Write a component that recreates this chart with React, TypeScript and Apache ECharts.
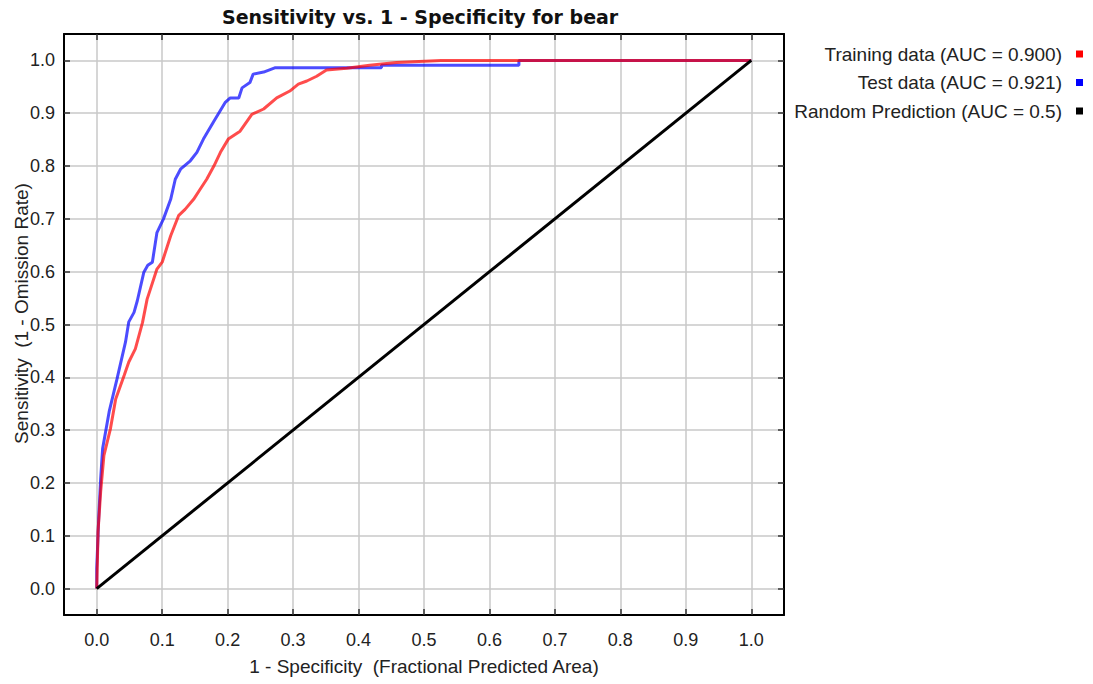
import React, { useEffect, useRef } from "react";
import * as echarts from "echarts";

const TITLE = "Sensitivity vs. 1 - Specificity for bear";
const X_NAME = "1 - Specificity  (Fractional Predicted Area)";
const Y_NAME = "Sensitivity  (1 - Omission Rate)";
const TICKS = [0, 0.1, 0.2, 0.3, 0.4, 0.5, 0.6, 0.7, 0.8, 0.9, 1.0];

const SERIES_NAMES = [
  "Training data (AUC = 0.900)",
  "Test data (AUC = 0.921)",
  "Random Prediction (AUC = 0.5)",
];
const SERIES_COLORS = ["#ff0000", "#0000ff", "#000000"];

const TRAIN_X = [0, 0.001, 0.002, 0.006, 0.011, 0.021, 0.029, 0.042, 0.049, 0.059, 0.07, 0.077, 0.082, 0.092, 0.1, 0.113, 0.125, 0.135, 0.148, 0.158, 0.168, 0.179, 0.189, 0.201, 0.219, 0.237, 0.255, 0.275, 0.295, 0.308, 0.321, 0.336, 0.351, 0.382, 0.417, 0.458, 0.526, 1.0];
const TRAIN_Y = [0, 0.05, 0.108, 0.183, 0.252, 0.303, 0.359, 0.404, 0.429, 0.454, 0.504, 0.548, 0.567, 0.605, 0.618, 0.668, 0.706, 0.718, 0.737, 0.756, 0.775, 0.8, 0.826, 0.851, 0.866, 0.898, 0.908, 0.929, 0.942, 0.955, 0.961, 0.97, 0.982, 0.985, 0.991, 0.996, 1.0, 1.0];

const TEST_X = [0, 0, 0.003, 0.006, 0.009, 0.019, 0.031, 0.044, 0.049, 0.057, 0.062, 0.072, 0.078, 0.085, 0.092, 0.102, 0.113, 0.12, 0.128, 0.143, 0.153, 0.163, 0.179, 0.196, 0.204, 0.217, 0.222, 0.234, 0.239, 0.255, 0.272, 0.435, 0.435, 0.645, 0.645, 1.0];
const TEST_Y = [0, 0.038, 0.133, 0.208, 0.265, 0.335, 0.397, 0.467, 0.505, 0.523, 0.545, 0.599, 0.612, 0.618, 0.674, 0.7, 0.737, 0.775, 0.794, 0.81, 0.826, 0.851, 0.885, 0.92, 0.929, 0.929, 0.948, 0.958, 0.974, 0.978, 0.986, 0.986, 0.991, 0.991, 1.0, 1.0];

const RANDOM_X = [0, 1];
const RANDOM_Y = [0, 1];

const FONT = "'Liberation Sans', Arial, sans-serif";

const zip = (xs: number[], ys: number[]) => xs.map((x, i) => [x, ys[i]]);

export default function App() {
  const ref = useRef<HTMLDivElement>(null);
  useEffect(() => {
    document.body.style.margin = "0";
    const chart = echarts.init(ref.current!, null, { renderer: "svg" });
    const frameLine = { show: true, onZero: false, lineStyle: { color: "#000", width: 2 } };
    const tick = { show: true, inside: true, length: 6, customValues: TICKS, lineStyle: { color: "#333", width: 1.5 } };
    const grid = { show: true, lineStyle: { color: "#c8c8c8", width: 1.5 } };
    const fmt = (v: number) => v.toFixed(1);
    chart.setOption({
      animation: false,
      backgroundColor: "#fff",
      title: {
        text: TITLE,
        left: 222,
        top: 7,
        padding: 0,
        textStyle: { fontFamily: "'DejaVu Sans', sans-serif", fontWeight: "bold", fontSize: 19, color: "#111" },
      },
      grid: { left: 64, top: 34, width: 720, height: 581, containLabel: false, outerBoundsMode: "none" },
      legend: {
        orient: "vertical",
        right: 10,
        top: 44,
        align: "right",
        padding: 0,
        itemWidth: 7,
        itemHeight: 7,
        itemGap: 8.5,
        icon: "rect",
        textStyle: { fontFamily: FONT, fontSize: 19, color: "#222", lineHeight: 20, padding: [0, 9, 0, 0] },
        data: SERIES_NAMES.map((n, i) => ({ name: n, itemStyle: { color: SERIES_COLORS[i], opacity: 1 } })),
      },
      xAxis: [
        {
          type: "value",
          position: "bottom",
          min: -0.05,
          max: 1.05,
          splitNumber: 11,
          axisLine: frameLine,
          axisTick: tick,
          axisLabel: { customValues: TICKS, formatter: fmt, fontFamily: FONT, fontSize: 18, color: "#222", margin: 16 },
          splitLine: grid,
          name: X_NAME,
          nameLocation: "middle",
          nameGap: 42,
          nameMoveOverlap: false,
          nameTextStyle: { fontFamily: FONT, fontSize: 19, color: "#222" },
        },
        {
          type: "value",
          position: "top",
          min: -0.05,
          max: 1.05,
          splitNumber: 11,
          axisLine: frameLine,
          axisTick: tick,
          axisLabel: { show: false },
          splitLine: { show: false },
        },
      ],
      yAxis: [
        {
          type: "value",
          position: "left",
          min: -0.05,
          max: 1.05,
          splitNumber: 11,
          axisLine: frameLine,
          axisTick: tick,
          axisLabel: { customValues: TICKS, formatter: fmt, fontFamily: FONT, fontSize: 18, color: "#222", margin: 9 },
          splitLine: grid,
          name: Y_NAME,
          nameLocation: "middle",
          nameGap: 33,
          nameRotate: 90,
          nameMoveOverlap: false,
          nameTextStyle: { fontFamily: FONT, fontSize: 19, color: "#222", padding: [0, 0, 0, 22] },
        },
        {
          type: "value",
          position: "right",
          min: -0.05,
          max: 1.05,
          splitNumber: 11,
          axisLine: frameLine,
          axisTick: tick,
          axisLabel: { show: false },
          splitLine: { show: false },
        },
      ],
      series: [
        {
          name: SERIES_NAMES[1],
          type: "line",
          data: zip(TEST_X, TEST_Y),
          showSymbol: false,
          symbol: "none",
          itemStyle: { color: SERIES_COLORS[1] },
          lineStyle: { color: SERIES_COLORS[1], width: 3, opacity: 0.7 },
          z: 2,
        },
        {
          name: SERIES_NAMES[0],
          type: "line",
          data: zip(TRAIN_X, TRAIN_Y),
          showSymbol: false,
          symbol: "none",
          itemStyle: { color: SERIES_COLORS[0] },
          lineStyle: { color: SERIES_COLORS[0], width: 3, opacity: 0.7 },
          z: 3,
        },
        {
          name: SERIES_NAMES[2],
          type: "line",
          data: zip(RANDOM_X, RANDOM_Y),
          showSymbol: false,
          symbol: "none",
          itemStyle: { color: SERIES_COLORS[2] },
          lineStyle: { color: SERIES_COLORS[2], width: 3 },
          z: 4,
        },
      ],
    });
    return () => chart.dispose();
  }, []);
  return <div ref={ref} style={{ width: 1093, height: 684 }} />;
}
